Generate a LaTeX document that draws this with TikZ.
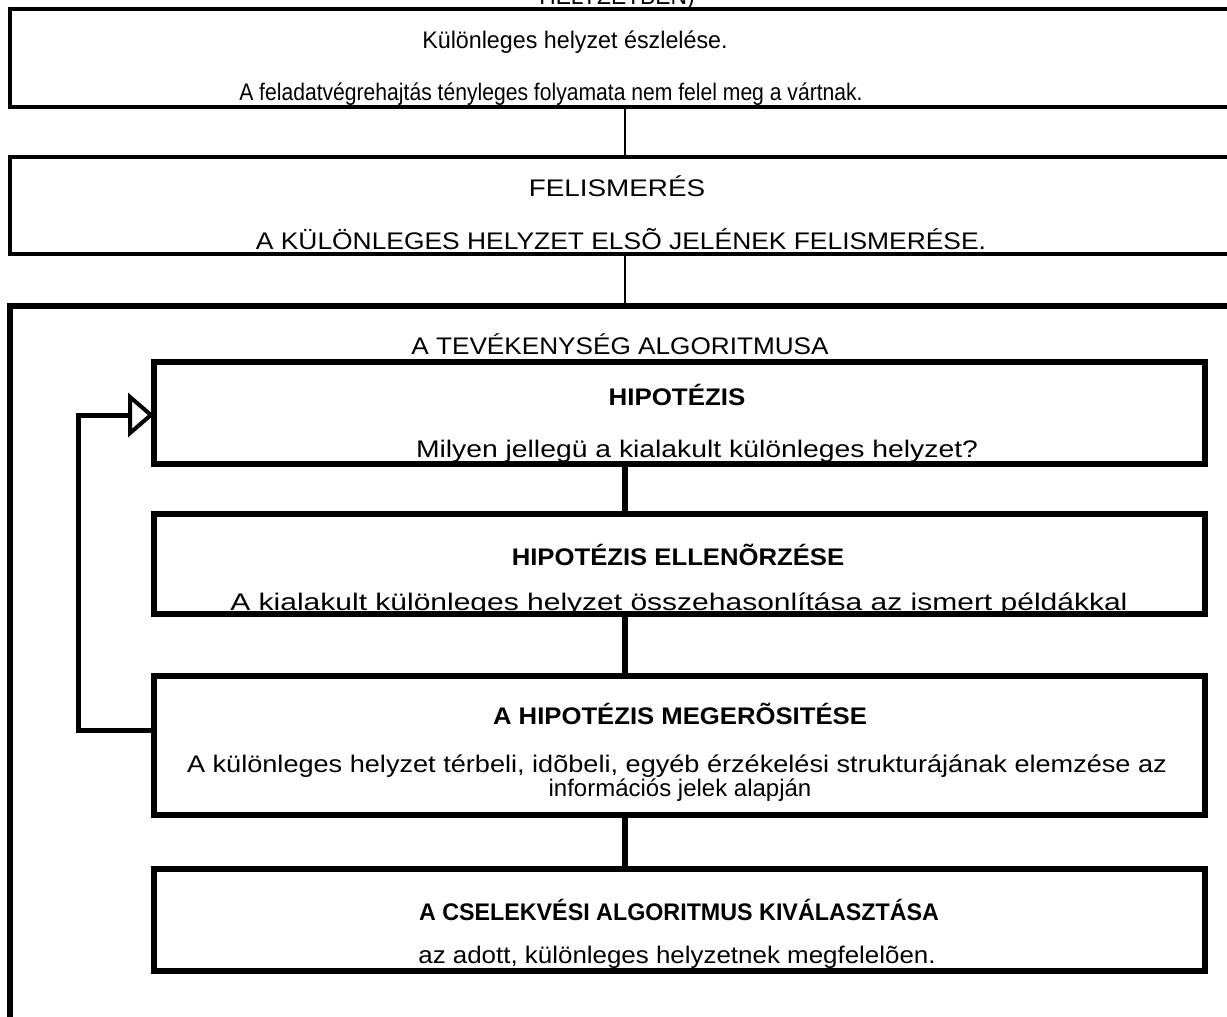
\documentclass[tikz,border=0pt]{standalone}
\usepackage{fontspec}
\usepackage{graphicx}
\setmainfont{Liberation Sans}
\usetikzlibrary{arrows.meta}
\newcommand{\sx}[2]{\scalebox{#1}[1]{#2}}
\begin{document}
\begin{tikzpicture}[x=1pt,y=-1pt,
  thinbox/.style={draw,line width=3.5pt,rectangle,inner sep=0pt,outer sep=0pt},
  thickbox/.style={draw,line width=6.5pt,rectangle,inner sep=0pt,outer sep=0pt},
  txt/.style={inner sep=0pt,font=\fontsize{24}{27}\selectfont,anchor=base},
  btxt/.style={inner sep=0pt,font=\fontsize{24}{27}\selectfont\bfseries,anchor=base},
  thinconn/.style={line width=2pt},
  thickconn/.style={line width=6.5pt},
  fb/.style={line width=5pt}]
\useasboundingbox (0,0) rectangle (1227,1017);
% boxes
\node[thinbox,minimum width=1230pt,minimum height=98pt] (b1) at (625,58) {};
\node[thinbox,minimum width=1230pt,minimum height=97pt] (b2) at (625,205.5) {};
\node[thickbox,minimum width=1230pt,minimum height=724pt] (big) at (625,668) {};
\node[thickbox,minimum width=1051pt,minimum height=102pt] (h1) at (679.5,413) {};
\node[thickbox,minimum width=1051pt,minimum height=100pt] (h2) at (679.5,564) {};
\node[thickbox,minimum width=1051pt,minimum height=139pt] (h3) at (679.5,745.5) {};
\node[thickbox,minimum width=1051pt,minimum height=102pt] (h4) at (679.5,920) {};
% texts
\node[txt] (t0) at (617,5) {\sx{0.95}{HELYZETBEN)}};
\node[txt] (t1a) at (575,48) {\sx{0.97}{Különleges helyzet észlelése.}};
\node[txt] (t1b) at (551,100) {\sx{0.88}{A feladatvégrehajtás tényleges folyamata nem felel meg a vártnak.}};
\node[txt] (t2a) at (617,196) {\sx{1.16}{FELISMERÉS}};
\node[txt] (t2b) at (621,249) {\sx{1.1}{A KÜLÖNLEGES HELYZET ELSÕ JELÉNEK FELISMERÉSE.}};
\node[txt] (t3) at (620,354) {\sx{1.09}{A TEVÉKENYSÉG ALGORITMUSA}};
\node[btxt] (h1a) at (677,405) {\sx{1.08}{HIPOTÉZIS}};
\node[txt] (h1b) at (697,457) {\sx{1.18}{Milyen jellegü a kialakult különleges helyzet?}};
\node[btxt] (h2a) at (678,565) {\sx{1.07}{HIPOTÉZIS ELLENÕRZÉSE}};
\node[txt] (h2b) at (679,610) {\sx{1.25}{A kialakult különleges helyzet összehasonlítása az ismert példákkal}};
\node[btxt] (h3a) at (680,724) {\sx{1.07}{A HIPOTÉZIS MEGERÕSITÉSE}};
\node[txt] (h3b) at (677,772) {\sx{1.13}{A különleges helyzet térbeli, idõbeli, egyéb érzékelési strukturájának elemzése az}};
\node[txt] (h3c) at (680,796) {\sx{1.0}{információs jelek alapján}};
\node[btxt] (h4a) at (679,920) {\sx{0.97}{A CSELEKVÉSI ALGORITMUS KIVÁLASZTÁSA}};
\node[txt] (h4b) at (677,963) {\sx{1.08}{az adott, különleges helyzetnek megfelelõen.}};
% connectors
\coordinate (cx) at (625,0);
\draw[thinconn] (b1.south -| cx) -- (b2.north -| cx);
\draw[thinconn] (b2.south -| cx) -- (big.north -| cx);
\draw[thickconn] (h1.south -| cx) -- (h2.north -| cx);
\draw[thickconn] (h2.south -| cx) -- (h3.north -| cx);
\draw[thickconn] (h3.south -| cx) -- (h4.north -| cx);
% feedback
\coordinate (fl) at (78,730);
\coordinate (ft) at (78,415);
\draw[fb,-{Triangle[open,length=26pt,width=44pt,line width=4pt]}] (h3.west |- fl) -- (fl) -- (ft) -- (h1.west |- ft);
\end{tikzpicture}
\end{document}
